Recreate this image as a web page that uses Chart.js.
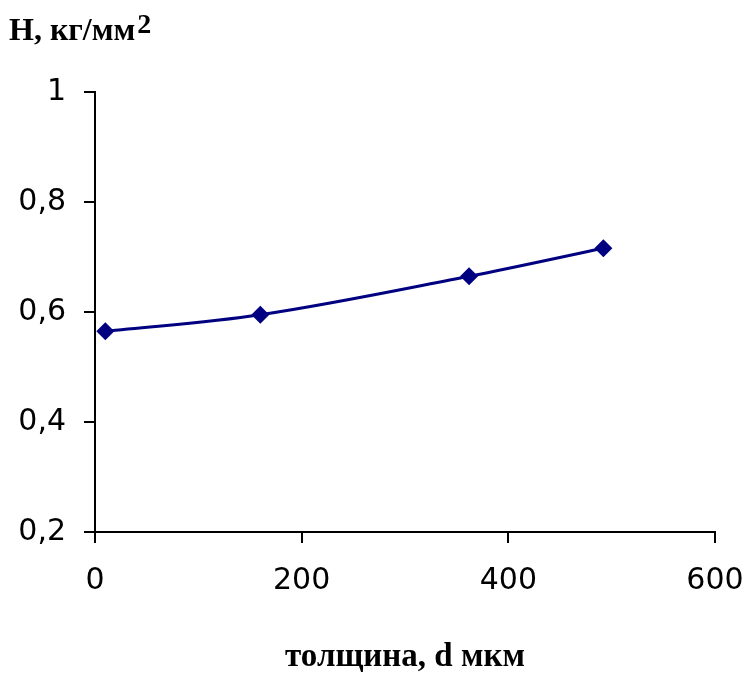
<!DOCTYPE html>
<html>
<head>
<meta charset="utf-8">
<script src="https://cdn.jsdelivr.net/npm/chart.js@4/dist/chart.umd.min.js"></script>
<style>
  html, body { margin: 0; padding: 0; background: #fff; }
  #wrap { width: 745px; height: 677px; }
</style>
</head>
<body>
<div id="wrap"><canvas id="c" width="745" height="677"></canvas></div>
<script>
// ---- data ----
const thickness = [10, 160, 362, 492];          // d, мкм
const hardness  = [0.565, 0.595, 0.665, 0.716]; // H, кг/мм2
const xTickValues = [0, 200, 400, 600];
const yTickLabels = ['0,2', '0,4', '0,6', '0,8', '1'];
const yTitle = 'H, кг/мм';
const yTitleSup = '2';
const xTitle = 'толщина, d мкм';

const points = thickness.map((x, i) => ({ x: x, y: hardness[i] }));

const yTitlePlugin = {
  id: 'yTitle',
  afterDraw(chart) {
    const ctx = chart.ctx;
    ctx.save();
    ctx.fillStyle = '#000';
    ctx.textBaseline = 'alphabetic';
    ctx.textAlign = 'left';
    ctx.font = 'bold 32px "Liberation Serif", "Times New Roman", serif';
    ctx.fillText(yTitle, 9, 40);
    const w = ctx.measureText(yTitle).width;
    ctx.font = 'bold 28px "Liberation Serif", "Times New Roman", serif';
    ctx.fillText(yTitleSup, 9 + w + 2, 33);
    ctx.restore();
  }
};

new Chart(document.getElementById('c'), {
  type: 'scatter',
  data: {
    datasets: [{
      data: points,
      showLine: true,
      borderColor: '#000080',
      backgroundColor: '#000080',
      borderWidth: 3,
      tension: 0.35,
      pointStyle: 'rectRot',
      pointRadius: 9,
      pointHoverRadius: 9,
      pointBorderWidth: 0
    }]
  },
  options: {
    responsive: false,
    animation: false,
    layout: { padding: { top: 92, right: 30, left: 0, bottom: 0 } },
    plugins: { legend: { display: false }, tooltip: { enabled: false } },
    scales: {
      x: {
        type: 'linear',
        min: 0, max: 600,
        afterBuildTicks(scale) { scale.ticks = xTickValues.map(v => ({ value: v })); },
        afterFit(scale) { scale.height = 145; scale.paddingLeft = 0; scale.paddingRight = 0; },
        border: { color: '#000', width: 2 },
        grid: { drawOnChartArea: false, drawTicks: true, tickLength: 11, color: '#000', lineWidth: 2 },
        ticks: {
          color: '#000',
          padding: 20,
          maxRotation: 0,
          font: { family: '"DejaVu Sans", sans-serif', size: 30 }
        },
        title: {
          display: true,
          text: xTitle,
          color: '#000',
          padding: { top: 0, bottom: 0 },
          font: { family: '"Liberation Serif", "Times New Roman", serif', size: 33, weight: 'bold' }
        }
      },
      y: {
        type: 'linear',
        min: 0.2, max: 1,
        afterBuildTicks(scale) { scale.ticks = yTickLabels.map((l, i) => ({ value: 0.2 + 0.2 * i })); },
        afterFit(scale) { scale.width = 95; scale.paddingTop = 0; scale.paddingBottom = 0; },
        border: { color: '#000', width: 2 },
        grid: { drawOnChartArea: false, drawTicks: true, tickLength: 11, color: '#000', lineWidth: 2 },
        ticks: {
          color: '#000',
          padding: 18,
          callback: (v, i) => yTickLabels[i],
          font: { family: '"DejaVu Sans", sans-serif', size: 30 }
        }
      }
    }
  },
  plugins: [yTitlePlugin]
});
</script>
</body>
</html>
